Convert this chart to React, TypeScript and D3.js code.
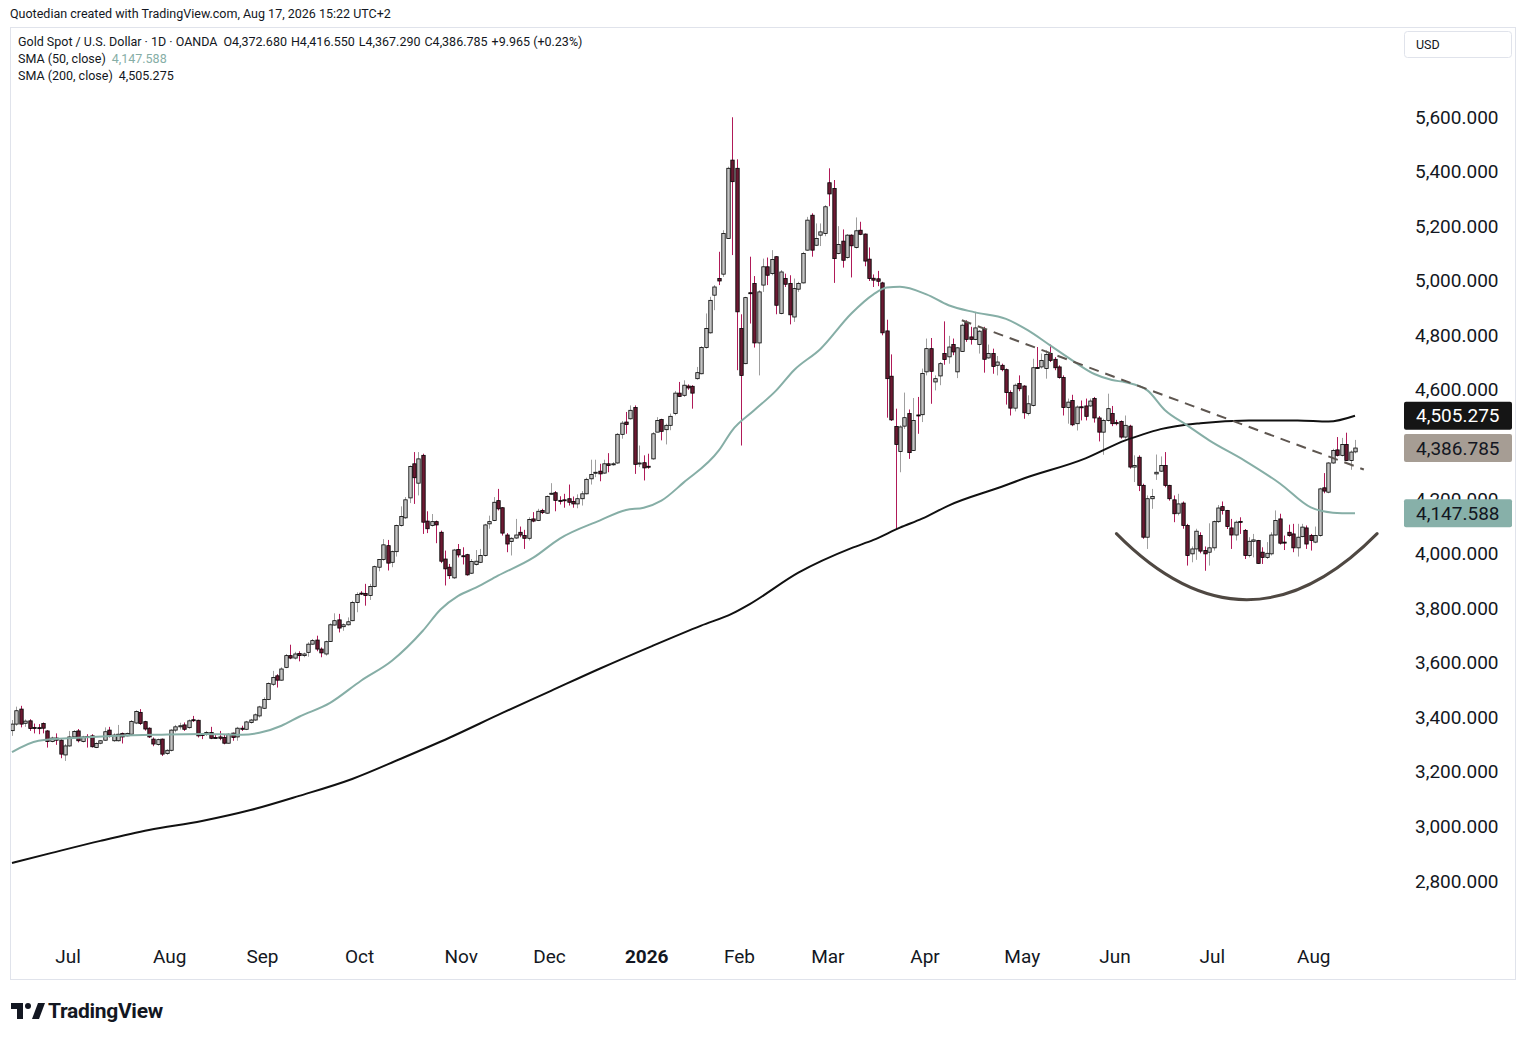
import * as d3 from 'd3';

const W = 1526;
const H = 1040;

// daily bars [open, high, low, close], oldest first (Jun 13 2025 -> Aug 17 2026)
const candlesSummer25: [number, number, number, number][] = [
  [3351, 3390, 3332, 3375], [3375, 3439, 3369, 3424], [3430, 3442, 3363, 3375], [3378, 3392, 3365, 3386],
  [3387, 3393, 3350, 3359], [3363, 3377, 3341, 3359], [3362, 3375, 3338, 3360], [3377, 3381, 3341, 3360],
  [3350, 3353, 3289, 3311], [3311, 3329, 3308, 3324], [3324, 3341, 3299, 3316], [3316, 3320, 3250, 3265],
  [3262, 3302, 3240, 3295], [3295, 3350, 3292, 3328], [3328, 3353, 3326, 3348], [3350, 3357, 3308, 3314],
  [3311, 3332, 3308, 3328], [3330, 3338, 3289, 3326], [3332, 3338, 3289, 3292], [3289, 3308, 3287, 3304],
  [3305, 3316, 3301, 3314], [3316, 3363, 3314, 3347], [3353, 3365, 3326, 3335], [3314, 3341, 3310, 3335],
  [3314, 3372, 3311, 3338], [3341, 3344, 3304, 3328], [3332, 3344, 3330, 3341], [3338, 3390, 3336, 3385],
  [3379, 3426, 3375, 3421], [3418, 3430, 3372, 3377], [3384, 3387, 3351, 3357], [3360, 3363, 3324, 3328],
  [3320, 3326, 3294, 3302], [3300, 3322, 3296, 3318], [3320, 3322, 3258, 3265], [3267, 3283, 3262, 3279],
  [3279, 3356, 3275, 3353], [3353, 3372, 3345, 3365], [3365, 3380, 3355, 3369], [3372, 3381, 3350, 3356],
  [3362, 3392, 3358, 3387], [3391, 3405, 3383, 3388], [3389, 3391, 3326, 3332], [3338, 3342, 3320, 3333],
  [3338, 3350, 3332, 3344], [3344, 3365, 3320, 3323], [3326, 3338, 3323, 3325], [3328, 3350, 3316, 3323],
  [3326, 3338, 3301, 3305], [3305, 3341, 3304, 3338], [3342, 3344, 3314, 3326], [3328, 3365, 3314, 3360],
  [3360, 3369, 3350, 3356], [3356, 3387, 3353, 3383], [3381, 3394, 3377, 3390], [3390, 3414, 3387, 3409],
  [3405, 3442, 3399, 3438], [3433, 3473, 3430, 3465], [3465, 3528, 3463, 3524], [3521, 3570, 3515, 3546],
];

const candlesAutumn25: [number, number, number, number][] = [
  [3552, 3558, 3509, 3536], [3536, 3583, 3534, 3577], [3583, 3632, 3580, 3626], [3626, 3666, 3613, 3617],
  [3617, 3640, 3612, 3632], [3634, 3642, 3605, 3626], [3626, 3637, 3620, 3632], [3638, 3675, 3622, 3668],
  [3668, 3687, 3666, 3681], [3683, 3699, 3642, 3650], [3650, 3656, 3620, 3636], [3632, 3681, 3626, 3677],
  [3678, 3744, 3676, 3739], [3738, 3781, 3736, 3754], [3757, 3779, 3711, 3727], [3732, 3744, 3717, 3739],
  [3739, 3766, 3736, 3750], [3754, 3827, 3752, 3821], [3821, 3858, 3785, 3850], [3855, 3862, 3848, 3854],
  [3854, 3889, 3809, 3846], [3846, 3889, 3830, 3879], [3879, 3956, 3876, 3952], [3950, 3980, 3935, 3978],
  [3978, 4053, 3974, 4032], [4029, 4050, 3938, 3965], [3968, 4011, 3950, 4007], [4007, 4106, 3989, 4103],
  [4103, 4173, 4099, 4136], [4131, 4207, 4127, 4197], [4204, 4323, 4185, 4319], [4329, 4372, 4182, 4278],
  [4258, 4372, 4213, 4347], [4360, 4366, 4072, 4115], [4119, 4155, 4075, 4091], [4103, 4145, 4099, 4117],
  [4117, 4121, 4038, 4105], [4078, 4084, 3965, 3972], [3980, 4011, 3883, 3944], [3950, 3962, 3907, 3919],
  [3911, 4017, 3907, 4013], [4015, 4035, 3986, 3995], [3992, 4023, 3960, 3990], [3996, 3999, 3919, 3922],
  [3928, 3980, 3925, 3971], [3960, 4013, 3956, 3972], [3968, 4017, 3965, 3993], [3993, 4109, 3989, 4105],
  [4109, 4139, 4091, 4117], [4121, 4207, 4119, 4188], [4194, 4237, 4158, 4164], [4168, 4170, 4066, 4075],
  [4068, 4075, 4005, 4035], [4044, 4060, 3993, 4056], [4057, 4127, 4054, 4068], [4078, 4099, 4060, 4068],
  [4066, 4087, 4017, 4056], [4056, 4133, 4048, 4125], [4127, 4152, 4115, 4119], [4121, 4164, 4119, 4155],
  [4158, 4164, 4145, 4150], [4148, 4213, 4146, 4209], [4219, 4258, 4216, 4221], [4223, 4229, 4155, 4195],
  [4195, 4210, 4180, 4194], [4197, 4219, 4168, 4196], [4201, 4253, 4176, 4188], [4191, 4209, 4168, 4182],
  [4182, 4217, 4166, 4201], [4201, 4229, 4176, 4219], [4219, 4278, 4217, 4272], [4274, 4344, 4253, 4290],
  [4296, 4344, 4280, 4298], [4302, 4329, 4265, 4292], [4295, 4344, 4292, 4329], [4329, 4368, 4298, 4323],
  [4327, 4335, 4322, 4329], [4332, 4442, 4329, 4437], [4437, 4486, 4421, 4478], [4482, 4519, 4439, 4473],
  [4494, 4543, 4491, 4525], [4535, 4543, 4292, 4327], [4330, 4396, 4317, 4332], [4333, 4360, 4268, 4314],
  [4320, 4366, 4311, 4318],
];

const candlesWinter26: [number, number, number, number][] = [
  [4347, 4445, 4344, 4439], [4445, 4500, 4445, 4488], [4491, 4494, 4415, 4448], [4454, 4476, 4400, 4470],
  [4470, 4513, 4452, 4503], [4513, 4596, 4507, 4588], [4588, 4629, 4574, 4576], [4580, 4635, 4574, 4617],
  [4614, 4620, 4600, 4607], [4613, 4617, 4531, 4588], [4641, 4684, 4637, 4663], [4659, 4760, 4657, 4755],
  [4755, 4880, 4751, 4825], [4809, 4941, 4806, 4928], [4947, 4984, 4892, 4977], [5008, 5106, 4984, 4999],
  [5024, 5185, 5014, 5173], [5155, 5418, 5155, 5412], [5442, 5599, 5094, 5363], [5412, 5445, 4672, 4886],
  [4825, 4877, 4396, 4653], [4696, 4941, 4694, 4938], [4956, 5088, 4843, 4955], [4990, 5017, 4755, 4772],
  [4772, 4965, 4653, 4959], [4984, 5081, 4959, 5051], [5051, 5085, 4984, 5020], [5026, 5112, 5020, 5078],
  [5088, 5090, 4877, 4910], [4880, 5039, 4877, 5032], [5008, 5026, 4977, 4987], [4990, 5020, 4840, 4875],
  [4867, 5008, 4849, 4971], [4969, 4996, 4959, 4990], [4992, 5106, 4990, 5100], [5112, 5234, 5110, 5222],
  [5240, 5247, 5088, 5112], [5130, 5210, 5127, 5155], [5167, 5210, 5127, 5179], [5173, 5277, 5163, 5271],
  [5359, 5412, 5273, 5318], [5338, 5369, 4992, 5081], [5100, 5200, 5097, 5133], [5145, 5188, 5048, 5075],
  [5085, 5171, 5081, 5167], [5167, 5170, 5012, 5128], [5122, 5232, 5118, 5183], [5185, 5216, 5167, 5170],
  [5171, 5173, 5053, 5072], [5079, 5122, 4999, 5008], [5009, 5023, 4977, 5002], [5007, 5036, 4980, 4998],
  [4992, 4996, 4800, 4809], [4816, 4857, 4498, 4641], [4650, 4730, 4486, 4490], [4466, 4531, 4090, 4400],
];

const candlesSpring26: [number, number, number, number][] = [
  [4374, 4470, 4298, 4464], [4467, 4590, 4457, 4498], [4513, 4528, 4347, 4370], [4378, 4570, 4376, 4488],
  [4508, 4574, 4439, 4506], [4509, 4678, 4482, 4660], [4666, 4788, 4653, 4751], [4751, 4790, 4549, 4668],
  [4629, 4653, 4598, 4641], [4651, 4702, 4617, 4696], [4733, 4851, 4692, 4711], [4721, 4798, 4696, 4757],
  [4766, 4788, 4727, 4739], [4666, 4757, 4643, 4754], [4741, 4843, 4739, 4837], [4847, 4855, 4776, 4785],
  [4794, 4831, 4766, 4785], [4785, 4886, 4782, 4827], [4766, 4819, 4733, 4815], [4822, 4831, 4663, 4712],
  [4717, 4766, 4714, 4733], [4733, 4751, 4659, 4686], [4690, 4724, 4653, 4702], [4690, 4696, 4668, 4674],
  [4674, 4678, 4546, 4590], [4590, 4598, 4506, 4533], [4533, 4623, 4521, 4617], [4623, 4653, 4595, 4604],
  [4614, 4617, 4494, 4516], [4513, 4580, 4506, 4549], [4543, 4714, 4539, 4681], [4682, 4757, 4678, 4680],
  [4684, 4733, 4678, 4708], [4678, 4745, 4641, 4730], [4733, 4766, 4702, 4708], [4712, 4720, 4672, 4681],
  [4684, 4690, 4641, 4645], [4645, 4653, 4506, 4535], [4535, 4568, 4476, 4555], [4561, 4582, 4467, 4472],
  [4476, 4543, 4451, 4537], [4538, 4561, 4488, 4537], [4541, 4568, 4488, 4503], [4541, 4568, 4537, 4559],
  [4568, 4574, 4480, 4497], [4497, 4504, 4411, 4445], [4445, 4494, 4362, 4488], [4488, 4586, 4484, 4531],
  [4513, 4541, 4467, 4476], [4480, 4490, 4470, 4476], [4484, 4488, 4421, 4427], [4427, 4506, 4421, 4470],
];

const candlesSummer26: [number, number, number, number][] = [
  [4467, 4472, 4311, 4317], [4317, 4360, 4262, 4323], [4353, 4360, 4229, 4250], [4250, 4256, 4054, 4060],
  [4060, 4213, 4017, 4201], [4201, 4237, 4164, 4209], [4292, 4363, 4270, 4298], [4302, 4356, 4299, 4323],
  [4323, 4372, 4243, 4250], [4250, 4252, 4194, 4201], [4197, 4213, 4115, 4146], [4148, 4219, 4140, 4182],
  [4185, 4191, 4091, 4103], [4103, 4109, 3956, 3993], [3999, 4026, 3968, 4017], [4017, 4091, 3977, 4082],
  [4066, 4078, 4001, 4009], [4011, 4026, 3937, 3999], [4005, 4111, 3956, 4021], [4021, 4121, 4011, 4117],
  [4117, 4178, 4112, 4167], [4172, 4191, 4143, 4158], [4158, 4160, 4090, 4099], [4094, 4127, 4017, 4068],
  [4068, 4121, 4048, 4115], [4118, 4133, 4072, 4117], [4085, 4090, 3980, 3993], [3993, 4060, 3986, 4045],
  [4045, 4072, 3986, 4050], [4048, 4050, 3962, 3964], [4005, 4023, 3962, 3986], [3986, 4042, 3980, 4001],
  [3999, 4078, 3993, 4068], [4068, 4158, 4066, 4121], [4127, 4146, 4033, 4038], [4042, 4066, 4013, 4041],
  [4078, 4106, 4062, 4066], [4072, 4109, 4005, 4021], [4021, 4109, 3989, 4060], [4062, 4109, 4060, 4097],
  [4094, 4103, 4017, 4035], [4066, 4072, 4011, 4048], [4042, 4099, 4038, 4066], [4066, 4241, 4062, 4237],
  [4241, 4295, 4221, 4229], [4225, 4335, 4221, 4332], [4332, 4384, 4329, 4378], [4380, 4427, 4356, 4360],
  [4360, 4424, 4356, 4400], [4400, 4443, 4339, 4341], [4341, 4378, 4307, 4372],
  [4372.68, 4416.55, 4367.29, 4386.785],
];

// SMA readings [bar index, value]
const sma50: [number, number][] = [
  [0, 3272], [6, 3314], [15, 3325], [24, 3332], [33, 3336], [43, 3339], [52, 3336], [56, 3343],
  [61, 3369], [65, 3402], [72, 3453], [79, 3534], [86, 3607], [93, 3717], [97, 3795], [101, 3845],
  [105, 3875], [110, 3919], [118, 3985], [124, 4055], [133, 4121], [139, 4160], [143, 4168], [147, 4194],
  [152, 4260], [160, 4378], [163, 4451], [168, 4525], [173, 4598], [177, 4672], [183, 4750], [190, 4880],
  [195, 4950], [198, 4975], [201, 4978], [207, 4950], [212, 4910], [218, 4884], [225, 4860], [230, 4818],
  [235, 4763], [240, 4708], [245, 4658], [249, 4636], [252, 4628], [257, 4598], [261, 4525], [266, 4470],
  [271, 4415], [279, 4341], [287, 4257], [294, 4169], [299, 4150], [304, 4147.588],
];

const sma200: [number, number][] = [
  [0, 2866], [9, 2903], [20, 2947], [31, 2987], [43, 3020], [54, 3060], [65, 3112], [77, 3174],
  [88, 3248], [99, 3325], [111, 3416], [122, 3497], [133, 3578], [145, 3662], [156, 3736], [163, 3780],
  [167, 3815], [178, 3930], [190, 4020], [195, 4050], [201, 4095], [206, 4128], [212, 4176], [224, 4245],
  [229, 4275], [243, 4349], [252, 4415], [256, 4437], [260, 4456], [269, 4478], [280, 4488], [291, 4488],
  [298, 4484], [304, 4505.275],
];

// drawings: dashed trend line and the rounded base, [bar index, price]
const trendLine: [number, number][] = [[215, 4855], [306, 4308]];
const cupBase: [number, number][] = [[250, 4073], [279.5, 3831], [309, 4073]];

const priceTicks = d3.range(2800, 5601, 200);
const holidays = new Set(['2025-12-25', '2026-01-01']);
const lastDay = new Date(2026, 7, 17);

const candles = [
  ...candlesSummer25,
  ...candlesAutumn25,
  ...candlesWinter26,
  ...candlesSpring26,
  ...candlesSummer26,
];

const dayKey = d3.timeFormat('%Y-%m-%d');

function tradingDays(count: number): Date[] {
  const out: Date[] = [];
  const d = new Date(lastDay);
  while (out.length < count) {
    const wd = d.getDay();
    if (wd !== 0 && wd !== 6 && !holidays.has(dayKey(d))) out.unshift(new Date(d));
    d.setDate(d.getDate() - 1);
  }
  return out;
}

const INK = '#131722';
const FONT = 'Roboto, "Trebuchet MS", sans-serif';
const UP_FILL = '#c4c4c4';
const UP_WICK = '#9f9f9f';
const DN_FILL = '#6b1a32';
const DN_WICK = '#b01a58';
const SMA50_COLOR = '#86aea6';

export default function App() {
  const n = candles.length;
  const dates = tradingDays(n);
  const x = d3.scaleLinear().domain([0, n - 1]).range([12, 1355]);
  const y = d3.scaleLinear().domain([2800, 5600]).range([881, 117]);
  const fmt = d3.format(',.3f');
  const px = (i: number) => Math.round(x(i)) + 0.5;

  const line = d3
    .line<[number, number]>()
    .x((d) => x(d[0]))
    .y((d) => y(d[1]))
    .curve(d3.curveMonotoneX);

  const monthTicks: { i: number; label: string; year: boolean }[] = [];
  for (let i = 1; i < n; i++) {
    if (dates[i].getMonth() !== dates[i - 1].getMonth()) {
      const isYear = dates[i].getMonth() === 0;
      monthTicks.push({
        i,
        label: isYear ? d3.timeFormat('%Y')(dates[i]) : d3.timeFormat('%b')(dates[i]),
        year: isYear,
      });
    }
  }

  // rounded base as a parabola through its three points
  const [c0, c1, c2] = cupBase;
  const cup = d3.path();
  cup.moveTo(x(c0[0]), y(c0[1]));
  cup.quadraticCurveTo(
    x(c1[0]),
    2 * y(c1[1]) - (y(c0[1]) + y(c2[1])) / 2,
    x(c2[0]),
    y(c2[1]),
  );

  const last = candles[n - 1];
  const priceBoxes = [
    { v: sma200[sma200.length - 1][1], fill: '#151515', text: '#ffffff' },
    { v: last[3], fill: '#a69d94', text: INK },
    { v: sma50[sma50.length - 1][1], fill: '#87b0a9', text: INK },
  ];
  // the scale hides tick labels that sit right under a price box
  const visibleTicks = priceTicks.filter((p) => priceBoxes.every((b) => Math.abs(y(p) - y(b.v)) > 8));

  return (
    <svg
      width={W}
      height={H}
      style={{ position: 'absolute', left: 0, top: 0, background: '#fff' }}
      fontFamily={FONT}
    >
      <defs>
        <clipPath id="plot">
          <rect x={11} y={28} width={1388} height={906} />
        </clipPath>
      </defs>
      <rect width={W} height={H} fill="#fff" />
      <rect x={10.5} y={27.5} width={1505} height={952} fill="none" stroke="#e0e3eb" />

      <text x={10} y={18} fontSize={12.5} fill={INK}>
        Quotedian created with TradingView.com, Aug 17, 2026 15:22 UTC+2
      </text>

      <g fontSize={12.5} fill={INK}>
        <text x={18} y={46}>
          Gold Spot / U.S. Dollar · 1D · OANDA
          <tspan dx={6}>O</tspan>
          <tspan>{fmt(last[0])}</tspan>
          <tspan dx={4}>H</tspan>
          <tspan>{fmt(last[1])}</tspan>
          <tspan dx={4}>L</tspan>
          <tspan>{fmt(last[2])}</tspan>
          <tspan dx={4}>C</tspan>
          <tspan>{fmt(last[3])}</tspan>
          <tspan dx={4}>+9.965 (+0.23%)</tspan>
        </text>
        <text x={18} y={63}>
          SMA (50, close)
          <tspan dx={6} fill={SMA50_COLOR}>{fmt(sma50[sma50.length - 1][1])}</tspan>
        </text>
        <text x={18} y={80}>
          SMA (200, close)
          <tspan dx={6}>{fmt(sma200[sma200.length - 1][1])}</tspan>
        </text>
      </g>

      <rect x={1404.5} y={31.5} width={107} height={26} rx={3} fill="#fff" stroke="#e0e3eb" />
      <text x={1416} y={49} fontSize={12.5} fill={INK}>USD</text>

      <g clipPath="url(#plot)">
        {candles.map(([o, h, l, c], i) => {
          const up = c >= o;
          const top = y(Math.max(o, c));
          const bh = Math.max(1, Math.abs(y(o) - y(c)));
          return (
            <g key={i}>
              <line
                x1={px(i)}
                x2={px(i)}
                y1={y(h)}
                y2={y(l)}
                stroke={up ? UP_WICK : DN_WICK}
                strokeWidth={1}
              />
              <rect
                x={px(i) - 1.7}
                y={top}
                width={3.4}
                height={bh}
                fill={up ? UP_FILL : DN_FILL}
                stroke="#000"
                strokeWidth={0.8}
              />
            </g>
          );
        })}

        <path d={line(sma200) ?? ''} fill="none" stroke="#111" strokeWidth={2} />
        <path d={line(sma50) ?? ''} fill="none" stroke={SMA50_COLOR} strokeWidth={2} />

        <line
          x1={x(trendLine[0][0])}
          y1={y(trendLine[0][1])}
          x2={x(trendLine[1][0])}
          y2={y(trendLine[1][1])}
          stroke="#5e5650"
          strokeWidth={2}
          strokeDasharray="10 7"
        />
        <path d={cup.toString()} fill="none" stroke="#4f4842" strokeWidth={3} strokeLinecap="round" />
      </g>

      <g fontSize={19} fill={INK}>
        {visibleTicks.map((p) => (
          <text key={p} x={1415} y={y(p)} dominantBaseline="central">
            {fmt(p)}
          </text>
        ))}
      </g>

      {priceBoxes.map((b) => (
        <g key={b.v}>
          <rect x={1404} y={y(b.v) - 14} width={108} height={28} rx={2} fill={b.fill} />
          <text
            x={1416}
            y={y(b.v)}
            dominantBaseline="central"
            fontSize={19}
            fill={b.text}
          >
            {fmt(b.v)}
          </text>
        </g>
      ))}

      <g fontSize={19} fill={INK} textAnchor="middle">
        {monthTicks.map((t) => (
          <text key={t.i} x={x(t.i) + 3} y={963} fontWeight={t.year ? 700 : 400}>
            {t.label}
          </text>
        ))}
      </g>

      <g transform="translate(11,1001)" fill={INK}>
        <path d="M0 2h12v16h-6v-10h-6z" />
        <circle cx={17} cy={5} r={3} />
        <path d="M21 18l6-16h7l-6 16z" />
        <text x={37} y={16.5} fontSize={21} fontWeight={700} letterSpacing={-0.3}>
          TradingView
        </text>
      </g>
    </svg>
  );
}
